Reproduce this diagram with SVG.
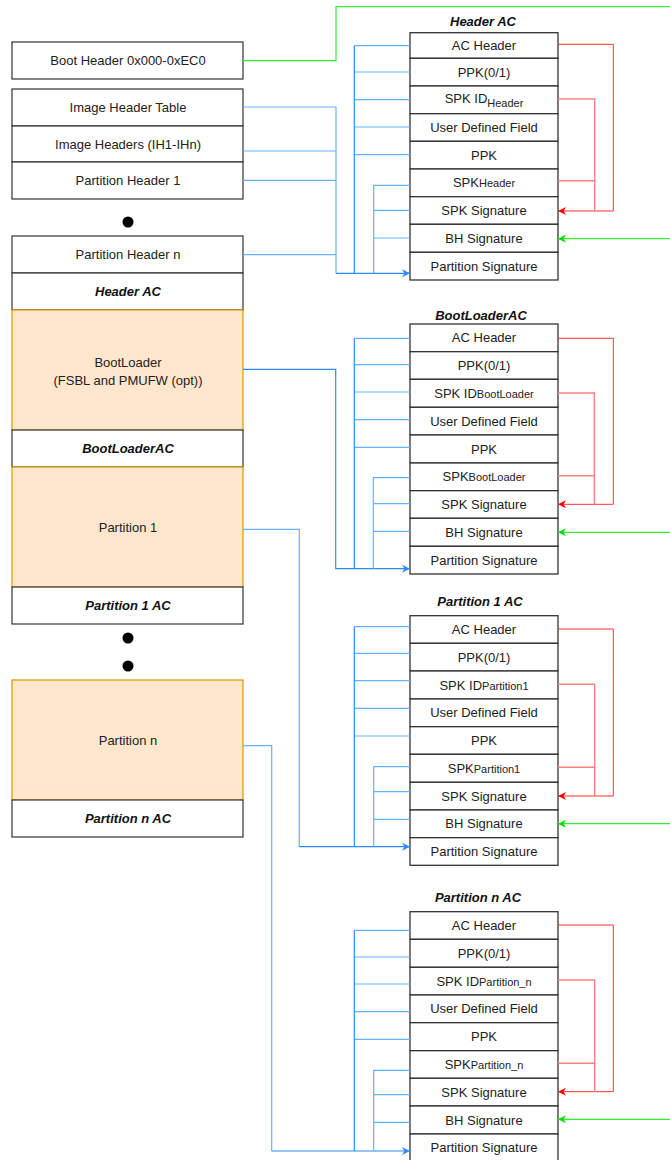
<svg xmlns="http://www.w3.org/2000/svg" width="670" height="1160" viewBox="0 0 670 1160">
  <style>
    text { font-family: "Liberation Sans", Arial, sans-serif; font-size: 13px; fill: #222; text-anchor: middle; }
    .t { font-weight: bold; font-style: italic; fill: #111; }
    .sm { font-size: 11px; }
    .box { fill: #fff; stroke: #333; stroke-width: 1.2; }
    .org { fill: #ffe6cc; stroke: #d79b00; stroke-width: 1.2; }
    .row { fill: #fff; stroke: #333; stroke-width: 1.3; }
    .b { fill: none; stroke: #66b2ff; stroke-width: 1.2; }
    .bd { fill: none; stroke: #2b8cff; stroke-width: 1.2; }
    .r { fill: none; stroke: #ff3333; stroke-width: 1; }
    .rl { fill: none; stroke: #ff8080; stroke-width: 1.4; }
    .g { fill: none; stroke: #33ee33; stroke-width: 1.2; }
  </style>
  <defs>
    <marker id="ab" viewBox="0 0 10 10" refX="10" refY="5" markerWidth="8" markerHeight="8" markerUnits="userSpaceOnUse" orient="auto">
      <path d="M0,0 L10,5 L0,10 L3,5 Z" fill="#2b8cff"/>
    </marker>
    <marker id="ar" viewBox="0 0 10 10" refX="10" refY="5" markerWidth="8" markerHeight="8" markerUnits="userSpaceOnUse" orient="auto">
      <path d="M0,0 L10,5 L0,10 L3,5 Z" fill="#ff0000"/>
    </marker>
    <marker id="ag" viewBox="0 0 10 10" refX="10" refY="5" markerWidth="8" markerHeight="8" markerUnits="userSpaceOnUse" orient="auto">
      <path d="M0,0 L10,5 L0,10 L3,5 Z" fill="#00dd00"/>
    </marker>
  </defs>

  <!-- boot image layout (left column) -->
  <g id="boot-header"><rect class="box" x="12" y="42" width="231" height="37"/><text x="128" y="65">Boot Header 0x000-0xEC0</text></g>
  <g id="image-header-table"><rect class="box" x="12" y="89" width="231" height="37"/><text x="128" y="112">Image Header Table</text></g>
  <g id="image-headers"><rect class="box" x="12" y="126" width="231" height="36"/><text x="128" y="148.5">Image Headers (IH1-IHn)</text></g>
  <g id="partition-header-1"><rect class="box" x="12" y="162" width="231" height="37"/><text x="128" y="185">Partition Header 1</text></g>
  <g id="dot-1"><circle cx="128" cy="222" r="5.5" fill="#000"/></g>
  <g id="partition-header-n"><rect class="box" x="12" y="236" width="231" height="37"/><text x="128" y="259">Partition Header n</text></g>
  <g id="header-ac-slot"><rect class="box" x="12" y="273" width="231" height="37"/><text class="t" x="128" y="296">Header AC</text></g>
  <g id="bootloader"><rect class="org" x="12" y="310" width="231" height="120"/><text x="128" y="367">BootLoader</text><text x="128" y="384.5">(FSBL and PMUFW (opt))</text></g>
  <g id="bootloader-ac-slot"><rect class="box" x="12" y="430" width="231" height="37"/><text class="t" x="128" y="453">BootLoaderAC</text></g>
  <g id="partition-1"><rect class="org" x="12" y="467" width="231" height="120"/><text x="128" y="531.5">Partition 1</text></g>
  <g id="partition-1-ac-slot"><rect class="box" x="12" y="587" width="231" height="37"/><text class="t" x="128" y="610">Partition 1 AC</text></g>
  <g id="dot-2"><circle cx="128" cy="638" r="5.5" fill="#000"/></g>
  <g id="dot-3"><circle cx="128" cy="666" r="5.5" fill="#000"/></g>
  <g id="partition-n"><rect class="org" x="12" y="680" width="231" height="120"/><text x="128" y="744.5">Partition n</text></g>
  <g id="partition-n-ac-slot"><rect class="box" x="12" y="800" width="231" height="37"/><text class="t" x="128" y="823">Partition n AC</text></g>

  <!-- Header AC -->
  <g id="header-ac">
    <text class="t" x="483" y="26">Header AC</text>
    <rect class="row" x="410" y="32.7" width="148" height="25.6"/><text x="484" y="50">AC Header</text>
    <rect class="row" x="410" y="58.3" width="148" height="27.7"/><text x="484" y="76.7">PPK(0/1)</text>
    <rect class="row" x="410" y="86" width="148" height="27.7"/><text x="484" y="102.5">SPK ID<tspan class="sm" dy="4">Header</tspan></text>
    <rect class="row" x="410" y="113.7" width="148" height="27.6"/><text x="484" y="132">User Defined Field</text>
    <rect class="row" x="410" y="141.3" width="148" height="27.7"/><text x="484" y="159.7">PPK</text>
    <rect class="row" x="410" y="169" width="148" height="27.7"/><text x="484" y="187.3" font-size="12">SPK<tspan class="sm">Header</tspan></text>
    <rect class="row" x="410" y="196.7" width="148" height="27.6"/><text x="484" y="215">SPK Signature</text>
    <rect class="row" x="410" y="224.3" width="148" height="28"/><text x="484" y="242.8">BH Signature</text>
    <rect class="row" x="410" y="252.3" width="148" height="27.7"/><text x="484" y="270.6">Partition Signature</text>
  </g>

  <!-- BootLoaderAC -->
  <g id="bootloader-ac">
    <text class="t" x="481" y="319.5">BootLoaderAC</text>
    <rect class="row" x="410" y="324" width="148" height="27.7"/><text x="484" y="342.3">AC Header</text>
    <rect class="row" x="410" y="351.7" width="148" height="27.6"/><text x="484" y="370">PPK(0/1)</text>
    <rect class="row" x="410" y="379.3" width="148" height="28"/><text x="484" y="397.8">SPK ID<tspan class="sm">BootLoader</tspan></text>
    <rect class="row" x="410" y="407.3" width="148" height="27.7"/><text x="484" y="425.6">User Defined Field</text>
    <rect class="row" x="410" y="435" width="148" height="28"/><text x="484" y="453.5">PPK</text>
    <rect class="row" x="410" y="463" width="148" height="27.7"/><text x="484" y="481.3" font-size="12">SPK<tspan class="sm">BootLoader</tspan></text>
    <rect class="row" x="410" y="490.7" width="148" height="27.6"/><text x="484" y="509">SPK Signature</text>
    <rect class="row" x="410" y="518.3" width="148" height="28"/><text x="484" y="536.8">BH Signature</text>
    <rect class="row" x="410" y="546.3" width="148" height="27.7"/><text x="484" y="564.6">Partition Signature</text>
  </g>

  <!-- Partition 1 AC -->
  <g id="partition-1-ac">
    <text class="t" x="480" y="606">Partition 1 AC</text>
    <rect class="row" x="410" y="615.7" width="148" height="27.6"/><text x="484" y="634">AC Header</text>
    <rect class="row" x="410" y="643.3" width="148" height="27.7"/><text x="484" y="661.6">PPK(0/1)</text>
    <rect class="row" x="410" y="671" width="148" height="28"/><text x="484" y="689.5">SPK ID<tspan class="sm">Partition1</tspan></text>
    <rect class="row" x="410" y="699" width="148" height="27.7"/><text x="484" y="717.3">User Defined Field</text>
    <rect class="row" x="410" y="726.7" width="148" height="27.6"/><text x="484" y="745">PPK</text>
    <rect class="row" x="410" y="754.3" width="148" height="28"/><text x="484" y="772.8" font-size="12">SPK<tspan class="sm">Partition1</tspan></text>
    <rect class="row" x="410" y="782.3" width="148" height="27.7"/><text x="484" y="800.6">SPK Signature</text>
    <rect class="row" x="410" y="810" width="148" height="27.7"/><text x="484" y="828.3">BH Signature</text>
    <rect class="row" x="410" y="837.7" width="148" height="27.6"/><text x="484" y="856">Partition Signature</text>
  </g>

  <!-- Partition n AC -->
  <g id="partition-n-ac">
    <text class="t" x="478" y="901.5">Partition n AC</text>
    <rect class="row" x="410" y="911.7" width="148" height="27.6"/><text x="484" y="930">AC Header</text>
    <rect class="row" x="410" y="939.3" width="148" height="28"/><text x="484" y="957.8">PPK(0/1)</text>
    <rect class="row" x="410" y="967.3" width="148" height="27.7"/><text x="484" y="985.6">SPK ID<tspan class="sm">Partition_n</tspan></text>
    <rect class="row" x="410" y="995" width="148" height="27.7"/><text x="484" y="1013.3">User Defined Field</text>
    <rect class="row" x="410" y="1022.7" width="148" height="28"/><text x="484" y="1041.2">PPK</text>
    <rect class="row" x="410" y="1050.7" width="148" height="27.6"/><text x="484" y="1069" font-size="12">SPK<tspan class="sm">Partition_n</tspan></text>
    <rect class="row" x="410" y="1078.3" width="148" height="27.7"/><text x="484" y="1096.6">SPK Signature</text>
    <rect class="row" x="410" y="1106" width="148" height="28"/><text x="484" y="1124.5">BH Signature</text>
    <rect class="row" x="410" y="1134" width="148" height="27.7"/><text x="484" y="1152.3">Partition Signature</text>
  </g>

  <g id="connectors">
    <!-- boot header signature feed (green) -->
    <path class="g" d="M243,60.7 H336 V6.7 H670"/>
    <path class="g" d="M670,238.7 H558" marker-end="url(#ag)"/>
    <path class="g" d="M670,532.3 H558" marker-end="url(#ag)"/>
    <path class="g" d="M670,823.7 H558" marker-end="url(#ag)"/>
    <path class="g" d="M670,1119.3 H558" marker-end="url(#ag)"/>

    <!-- Header AC: signed regions (blue) -->
    <path class="b" d="M243,107 H336 M243,151 H336 M243,180.3 H336 M243,254.7 H336 M336,107 V273.3"/>
    <path class="b" d="M410,45.7 H354.3 M410,72 H354.3 M410,99.7 H354.3 M410,127 H354.3 M410,154.7 H354.3"/>
    <path class="bd" d="M354.3,45.7 V273.3"/>
    <path class="b" d="M410,185.3 H373.7 V273.3 M410,210.3 H373.7 M410,238 H373.7"/>
    <path class="bd" d="M336,273.3 H410" marker-end="url(#ab)"/>
    <!-- Header AC: SPK signature coverage (red) -->
    <path class="r" d="M558,44.3 H613.3 V211 H558" marker-end="url(#ar)"/>
    <path class="rl" d="M558,99 H594.7 V211 M558,180.7 H594.7"/>

    <!-- BootLoaderAC -->
    <path class="bd" d="M243,369.3 H335.7 V568.7 H410" marker-end="url(#ab)"/>
    <path class="b" d="M410,338.3 H354.3 M410,364.7 H354.3 M410,392 H354.3 M410,419.7 H354.3 M410,447.3 H354.3"/>
    <path class="bd" d="M354.3,338.3 V568.7"/>
    <path class="b" d="M410,477.7 H373.3 V568.7 M410,503.7 H373.3 M410,531.3 H373.3"/>
    <path class="r" d="M558,338.3 H613.3 V504.3 H558" marker-end="url(#ar)"/>
    <path class="rl" d="M558,393 H594.3 V504.3 M558,475.7 H594.3"/>

    <!-- Partition 1 AC -->
    <path class="b" d="M243,529.3 H299.3 V846.7"/>
    <path class="bd" d="M299.3,846.7 H410" marker-end="url(#ab)"/>
    <path class="b" d="M410,626.7 H354.3 M410,653.3 H354.3 M410,680.7 H354.3 M410,708.3 H354.3 M410,736 H354.3"/>
    <path class="bd" d="M354.3,626.7 V846.7"/>
    <path class="b" d="M410,766.7 H373.7 V846.7 M410,791.7 H373.7 M410,819.3 H373.7"/>
    <path class="r" d="M558,629 H613.3 V796 H558" marker-end="url(#ar)"/>
    <path class="rl" d="M558,684.3 H594.7 V796 M558,767.3 H594.7"/>

    <!-- Partition n AC -->
    <path class="b" d="M243,745.7 H271.7 V1151"/>
    <path class="bd" d="M271.7,1151 H410" marker-end="url(#ab)"/>
    <path class="b" d="M410,930.3 H354.3 M410,957 H354.3 M410,984 H354.3 M410,1011.7 H354.3 M410,1039.3 H354.3"/>
    <path class="bd" d="M354.3,930.3 V1151"/>
    <path class="b" d="M410,1070.3 H373.7 V1151 M410,1094.7 H373.7 M410,1122.3 H373.7"/>
    <path class="r" d="M558,925 H613.3 V1091.7 H558" marker-end="url(#ar)"/>
    <path class="rl" d="M558,980 H594.7 V1091.7 M558,1063.3 H594.7"/>
  </g>
</svg>
